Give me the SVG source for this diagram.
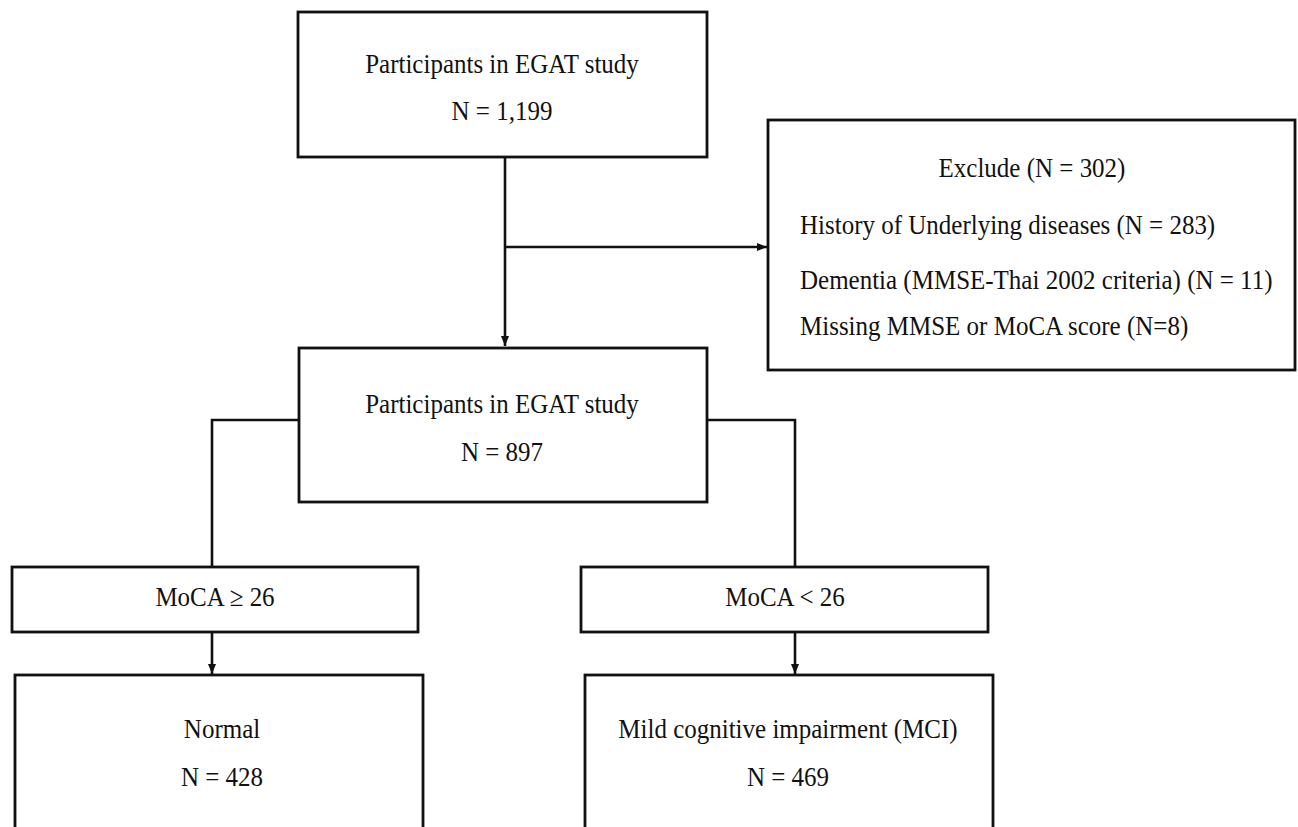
<svg xmlns="http://www.w3.org/2000/svg" width="1298" height="827" viewBox="0 0 1298 827">
<defs>
<marker id="arr" viewBox="0 0 10 10" refX="10" refY="5" markerWidth="11" markerHeight="10" markerUnits="userSpaceOnUse" orient="auto">
<path d="M0,1 L10,5 L0,9 Z" fill="#111"/>
</marker>
<style>
.box{fill:#fff;stroke:#111;stroke-width:2.8}
.t{font-family:"Liberation Serif","Times New Roman",serif;font-size:25px;fill:#111}
.c{text-anchor:middle}
.ln{fill:none;stroke:#111;stroke-width:2.6}
</style>
</defs>
<rect width="1298" height="827" fill="#fff"/>
<g id="connectors">
<line class="ln" x1="505" y1="157" x2="505" y2="346" marker-end="url(#arr)"/>
<line class="ln" x1="505" y1="247" x2="767" y2="247" marker-end="url(#arr)"/>
<polyline class="ln" points="299,420 212,420 212,567"/>
<polyline class="ln" points="707,420 795,420 795,567"/>
<line class="ln" x1="212" y1="632" x2="212" y2="674" marker-end="url(#arr)"/>
<line class="ln" x1="795" y1="632" x2="795" y2="674" marker-end="url(#arr)"/>
</g>
<g id="n1">
<rect class="box" x="298" y="12" width="409" height="145"/>
<text class="t c" transform="translate(502,73) scale(1,1.1)">Participants in EGAT study</text>
<text class="t c" transform="translate(502,120) scale(1,1.1)">N = 1,199</text>
</g>
<g id="exclude">
<rect class="box" x="768" y="120" width="527" height="250"/>
<text class="t c" transform="translate(1032,177) scale(1,1.1)">Exclude (N = 302)</text>
<text class="t" transform="translate(800,234) scale(1,1.1)">History of Underlying diseases (N = 283)</text>
<text class="t" transform="translate(800,289) scale(1,1.1)">Dementia (MMSE-Thai 2002 criteria) (N = 11)</text>
<text class="t" transform="translate(800,335) scale(1,1.1)">Missing MMSE or MoCA score (N=8)</text>
</g>
<g id="n2">
<rect class="box" x="299" y="348" width="408" height="154"/>
<text class="t c" transform="translate(502,413) scale(1,1.1)">Participants in EGAT study</text>
<text class="t c" transform="translate(502,461) scale(1,1.1)">N = 897</text>
</g>
<g id="moca_hi">
<rect class="box" x="12" y="567" width="406" height="65"/>
<text class="t c" transform="translate(215,606) scale(1,1.1)">MoCA ≥ 26</text>
</g>
<g id="moca_lo">
<rect class="box" x="581" y="567" width="407" height="65"/>
<text class="t c" transform="translate(785,606) scale(1,1.1)">MoCA &lt; 26</text>
</g>
<g id="normal">
<rect class="box" x="15" y="675" width="408" height="170"/>
<text class="t c" transform="translate(222,738) scale(1,1.1)">Normal</text>
<text class="t c" transform="translate(222,786) scale(1,1.1)">N = 428</text>
</g>
<g id="mci">
<rect class="box" x="585" y="675" width="408" height="170"/>
<text class="t c" transform="translate(788,738) scale(1,1.1)">Mild cognitive impairment (MCI)</text>
<text class="t c" transform="translate(788,786) scale(1,1.1)">N = 469</text>
</g>
</svg>
